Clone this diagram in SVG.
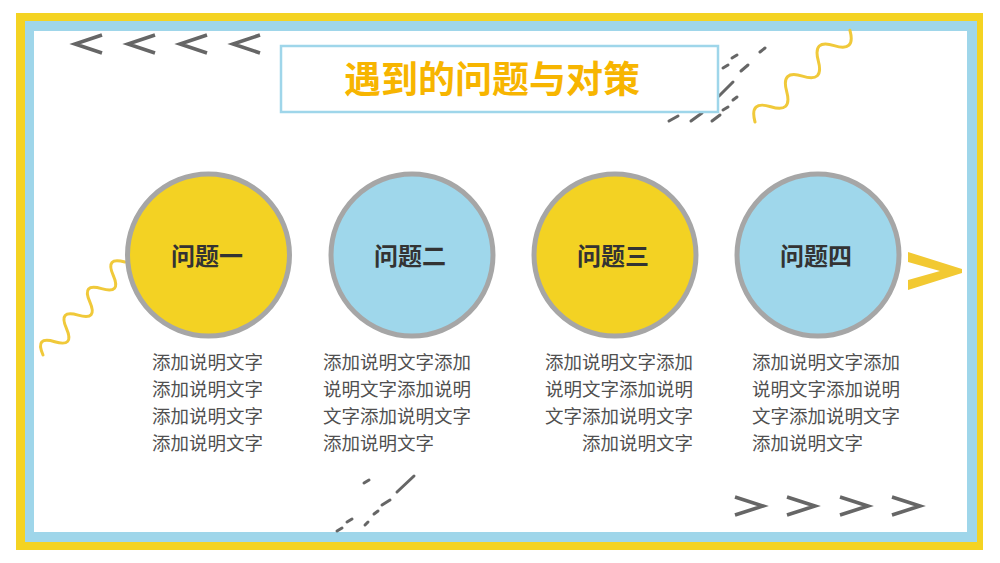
<svg xmlns="http://www.w3.org/2000/svg" width="1000" height="563" viewBox="0 0 1000 563">
<defs>
<style>
.chev{fill:none;stroke:#666;stroke-width:3.6;stroke-linejoin:miter}
.dash{stroke:#666;stroke-width:3;stroke-linecap:round}
.wave{fill:none;stroke:#f0c93a;stroke-width:3;stroke-linecap:round}
.ring{stroke:#a6a6a6;stroke-width:5}
.label{font-family:"Noto Sans CJK SC","Noto Sans",sans-serif;font-weight:700;font-size:24px;fill:#333;text-anchor:middle}
.body{font-family:"Noto Sans CJK SC","Noto Sans",sans-serif;font-size:18.5px;fill:#505050}
</style>
</defs>
<rect width="1000" height="563" fill="#fff"/>
<g id="frame">
<rect x="16" y="13" width="967" height="537" fill="#f4d322"/>
<rect x="25" y="21" width="952" height="521" fill="#9fd6ea"/>
<rect x="34" y="31" width="933" height="501" fill="#fff"/>
</g>
<g id="decor">
<polyline class="chev" points="102,35 75,44 102,53"/>
<polyline class="chev" points="155,35 128,44 155,53"/>
<polyline class="chev" points="207,35 180,44 207,53"/>
<polyline class="chev" points="260,35 233,44 260,53"/>
<polyline class="chev" points="735,497 763,506 735,515"/>
<polyline class="chev" points="787,497 815,506 787,515"/>
<polyline class="chev" points="840,497 868,506 840,515"/>
<polyline class="chev" points="892,497 920,506 892,515"/>
<polygon points="908,252 962,269 962,273 908,290 908,280 940,271 908,262" fill="#f2c932"/>
<line class="dash" x1="669" y1="121" x2="678" y2="116"/>
<line class="dash" x1="691" y1="121" x2="702" y2="113"/>
<line class="dash" x1="712" y1="121" x2="720" y2="115"/>
<line class="dash" x1="723" y1="110" x2="728" y2="107"/>
<line class="dash" x1="733" y1="100" x2="737" y2="97"/>
<line class="dash" x1="719" y1="96" x2="733" y2="82"/>
<line class="dash" x1="723" y1="68" x2="728" y2="65"/>
<line class="dash" x1="732" y1="58" x2="737" y2="55"/>
<line class="dash" x1="741" y1="71" x2="748" y2="65"/>
<line class="dash" x1="760" y1="52" x2="765" y2="48"/>
<line class="dash" x1="364" y1="483" x2="369" y2="480"/>
<line class="dash" x1="397" y1="492" x2="414" y2="476"/>
<line class="dash" x1="382" y1="505" x2="390" y2="500"/>
<line class="dash" x1="374" y1="514" x2="378" y2="511"/>
<line class="dash" x1="365" y1="525" x2="368" y2="522"/>
<line class="dash" x1="347" y1="522" x2="352" y2="519"/>
<line class="dash" x1="337" y1="531" x2="342" y2="528"/>
<path class="wave" transform="translate(43,355) rotate(-48.6)" d="M0,0 q8.85,-19 17.7,0 t17.7,0 t17.7,0 t17.7,0 t17.7,0 t17.7,0 t17.7,0"/>
<path class="wave" transform="translate(755,122) rotate(-44)" d="M0,0 q11,-20 22,0 t22,0 t22,0 t22,0 t22,0 t22,0"/>
</g>
<g id="title">
<rect x="281" y="46" width="437" height="66" fill="#fff" stroke="#9fd6ea" stroke-width="2.5"/>
<text x="492" y="93" font-family="'Noto Sans CJK SC','Noto Sans',sans-serif" font-weight="700" font-size="37" fill="#f7b500" text-anchor="middle">遇到的问题与对策</text>
</g>
<g id="node1">
<circle class="ring" cx="208.5" cy="255" r="81" fill="#f3d223"/>
<text class="label" x="207" y="265">问题一</text>
<text class="body" x="152"><tspan x="152" y="369">添加说明文字</tspan><tspan x="152" y="396">添加说明文字</tspan><tspan x="152" y="423">添加说明文字</tspan><tspan x="152" y="450">添加说明文字</tspan></text>
</g>
<g id="node2">
<circle class="ring" cx="412" cy="255" r="81" fill="#9fd7eb"/>
<text class="label" x="410" y="265">问题二</text>
<text class="body" x="323"><tspan x="323" y="369">添加说明文字添加</tspan><tspan x="323" y="396">说明文字添加说明</tspan><tspan x="323" y="423">文字添加说明文字</tspan><tspan x="323" y="450">添加说明文字</tspan></text>
</g>
<g id="node3">
<circle class="ring" cx="615" cy="255" r="81" fill="#f3d223"/>
<text class="label" x="613" y="265">问题三</text>
<text class="body" text-anchor="end"><tspan x="693" y="369">添加说明文字添加</tspan><tspan x="693" y="396">说明文字添加说明</tspan><tspan x="693" y="423">文字添加说明文字</tspan><tspan x="693" y="450">添加说明文字</tspan></text>
</g>
<g id="node4">
<circle class="ring" cx="818" cy="255" r="81" fill="#9fd7eb"/>
<text class="label" x="816" y="265">问题四</text>
<text class="body" x="752"><tspan x="752" y="369">添加说明文字添加</tspan><tspan x="752" y="396">说明文字添加说明</tspan><tspan x="752" y="423">文字添加说明文字</tspan><tspan x="752" y="450">添加说明文字</tspan></text>
</g>
<g id="connectors"></g>
</svg>
